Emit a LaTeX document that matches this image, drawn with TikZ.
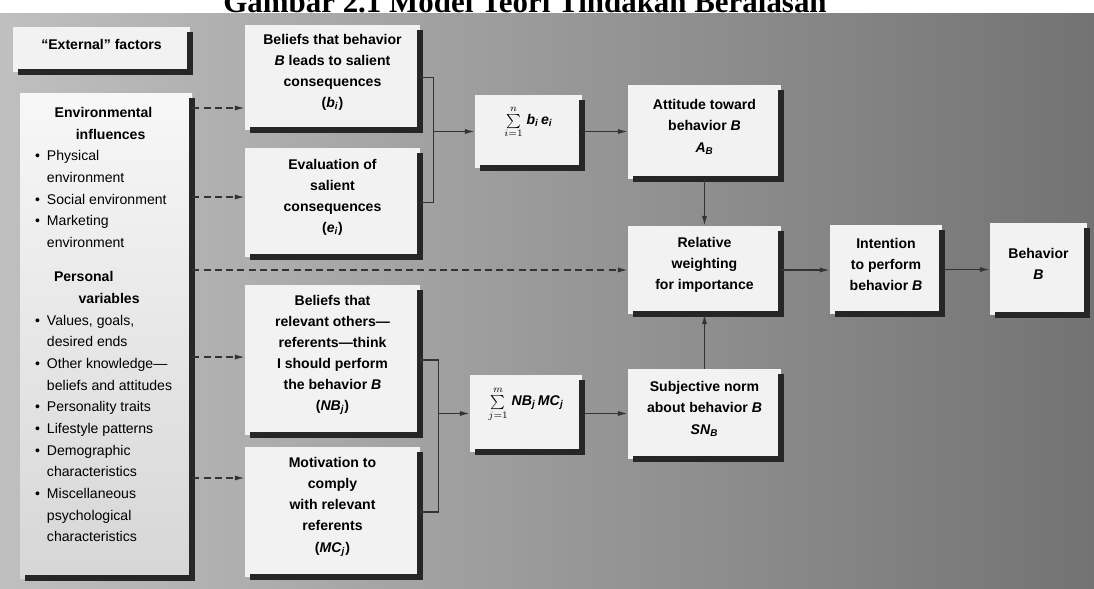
\documentclass[tikz,border=0pt]{standalone}
\usepackage{fontspec}
\setmainfont{Liberation Sans}
\newfontfamily\judulfont{Liberation Serif}
\usetikzlibrary{arrows.meta,fit}

\newcommand{\bv}[1]{\textbf{\textit{#1}}}
\newcommand{\bul}[1]{\makebox[8.5pt][l]{•}#1}
\newcommand{\bulc}[1]{\hspace*{8.5pt}#1}

\begin{document}
\begin{tikzpicture}[x=0.025cm,y=-0.025cm,
		boxnode/.style={fill=black!5,inner sep=0pt,align=center,font=\bfseries\fontsize{10}{15}\selectfont},
		shadowline/.style={line width=4.2pt,draw=black!85},
		arrline/.style={draw=black!80,line width=0.9pt,-{Latex[length=7pt,width=3.6pt]}},
		dashline/.style={arrline,dash pattern=on 5pt off 3pt},
		bracketline/.style={draw=black!80,line width=0.8pt}]
			\useasboundingbox (0,0) rectangle (1094,588);
			\fill[white] (0,0) rectangle (1094,13);
			\shade[left color=black!25,right color=black!55] (0,13) rectangle (1094,588);

			\node[anchor=base,font=\judulfont\bfseries\fontsize{22}{24}\selectfont] (judul) at (525,12) {Gambar 2.1 Model Teori Tindakan Beralasan};

			% kotak kiri
			\node[boxnode,fit={(13,27) (190,72)}] (ext) {“External” factors};
			\node[boxnode,top color=black!3,bottom color=black!16,fit={(20,93) (192,578)}] (env) {};
			\node[anchor=north west,align=left,inner sep=0pt,font=\fontsize{10}{15.4}\selectfont] (envtxt) at ([xshift=10.7pt,yshift=-10.3pt]env.north west) {%
				\hspace*{14pt}\textbf{Environmental}\\
				\hspace*{29pt}\textbf{influences}\\
				\bul{Physical}\\
				\bulc{environment}\\
				\bul{Social environment}\\
				\bul{Marketing}\\
				\bulc{environment}\\[9pt]
				\hspace*{13.5pt}\textbf{Personal}\\
				\hspace*{31pt}\textbf{variables}\\
				\bul{Values, goals,}\\
				\bulc{desired ends}\\
				\bul{Other knowledge—}\\
				\bulc{beliefs and attitudes}\\
				\bul{Personality traits}\\
				\bul{Lifestyle patterns}\\
				\bul{Demographic}\\
				\bulc{characteristics}\\
				\bul{Miscellaneous}\\
				\bulc{psychological}\\
				\bulc{characteristics}};

			% kotak tengah
			\node[boxnode,fit={(245,25) (420,130)}] (bel) {Beliefs that behavior\\\bv{B} leads to salient\\consequences\\(\bv{b}\textsubscript{\bv{i}})};
			\node[boxnode,fit={(245,148) (420,257)}] (eva) {Evaluation of\\salient\\consequences\\(\bv{e}\textsubscript{\bv{i}})};
			\node[boxnode,fit={(245,285) (420,435)}] (nb) {Beliefs that\\relevant others—\\referents—think\\I should perform\\the behavior \bv{B}\\(\bv{NB}\textsubscript{\bv{j}})};
			\node[boxnode,fit={(245,447) (420,577)}] (mc) {Motivation to\\comply\\with relevant\\referents\\(\bv{MC}\textsubscript{\bv{j}})};
			\node[boxnode,fit={(475,95) (582,168)}] (sumb) {$\sum\limits_{i=1}^{n}$\;\bv{b}\textsubscript{\bv{i}}\,\bv{e}\textsubscript{\bv{i}}};
			\node[boxnode,fit={(470,375) (582,452)}] (sumn) {$\sum\limits_{j=1}^{m}$\;\bv{NB}\textsubscript{\bv{j}}\,\bv{MC}\textsubscript{\bv{j}}};

			% kotak kanan
			\node[boxnode,fit={(628,85) (781,179)}] (att) {Attitude toward\\behavior \bv{B}\\\bv{A}\textsubscript{\bv{B}}};
			\node[boxnode,fit={(628,226) (781,314)}] (rel) {Relative\\weighting\\for importance};
			\node[boxnode,fit={(628,369) (781,459)}] (sn) {Subjective norm\\about behavior \bv{B}\\\bv{SN}\textsubscript{\bv{B}}};
			\node[boxnode,fit={(830,225) (942,314)}] (int) {Intention\\to perform\\behavior \bv{B}};
			\node[boxnode,fit={(990,223) (1087,315)}] (beh) {Behavior\\\bv{B}};

			\foreach \n in {ext,env,bel,eva,nb,mc,sumb,sumn,att,rel,sn,int,beh}
				\draw[shadowline] ([yshift=-3.5pt]\n.north east) -- (\n.south east) -- ([xshift=4pt]\n.south west);

			% panah putus-putus
			\coordinate (pbel) at ([yshift=-21.7pt]bel.west);
			\coordinate (peva) at ([yshift=3.9pt]eva.west);
			\coordinate (pnb) at ([yshift=2.1pt]nb.west);
			\coordinate (pmc) at ([yshift=24.2pt]mc.west);
			\foreach \p in {pbel,peva,pnb,pmc,rel.west}
				\draw[dashline] (env.east |- \p) -- (\p);

			\draw[bracketline] (bel.east) -- ++(13,0) coordinate (kb) |- (eva.east);
			\draw[arrline] (kb |- sumb.west) -- (sumb.west);
			\draw[bracketline] (nb.east) -- ++(18,0) coordinate (kn) |- (mc.east);
			\draw[arrline] (kn |- sumn.west) -- (sumn.west);

			\draw[arrline] (sumb.east) -- (sumb.east -| att.west);
			\draw[arrline] (sumn.east) -- (sumn.east -| sn.west);
			\draw[arrline] (att.south) -- (rel.north);
			\draw[arrline] (sn.north) -- (rel.south);
			\draw[arrline] (rel.east) -- (rel.east -| int.west);
			\draw[arrline] (int.east) -- (int.east -| beh.west);

			% \draw[help lines,step=50] (0,0) grid (1094,588);
		\end{tikzpicture}
\end{document}
